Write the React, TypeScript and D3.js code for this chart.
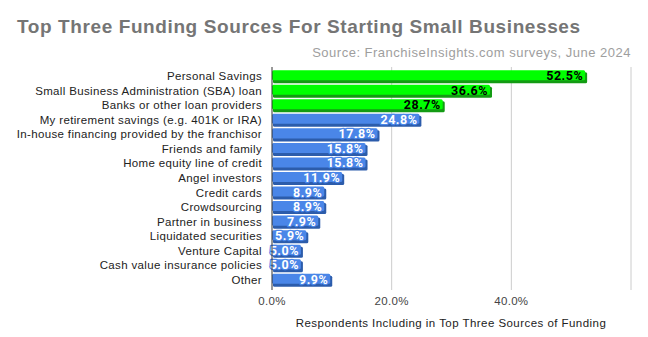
import React from "react";
import * as d3 from "d3";

const categories = [
  "Personal Savings",
  "Small Business Administration (SBA) loan",
  "Banks or other loan providers",
  "My retirement savings (e.g. 401K or IRA)",
  "In-house financing provided by the franchisor",
  "Friends and family",
  "Home equity line of credit",
  "Angel investors",
  "Credit cards",
  "Crowdsourcing",
  "Partner in business",
  "Liquidated securities",
  "Venture Capital",
  "Cash value insurance policies",
  "Other",
];
const values = [52.5, 36.6, 28.7, 24.8, 17.8, 15.8, 15.8, 11.9, 8.9, 8.9, 7.9, 5.9, 5.0, 5.0, 9.9];
const highlighted = [true, true, true, false, false, false, false, false, false, false, false, false, false, false, false];
const xTicks = [0, 20, 40, 60];

const W = 648;
const H = 337;
const left = 272;
const right = 631;
const top = 69;
const bottom = 287;

export default function App() {
  const x = d3.scaleLinear().domain([0, 60]).range([left, right]);
  const y = d3.scaleBand<string>().domain(categories).range([top, bottom]).paddingInner(0.17).paddingOuter(0.08);
  const bh = y.bandwidth();
  const sans = "Arial, 'Liberation Sans', sans-serif";
  return (
    <svg width={W} height={H} style={{ position: "absolute", left: 0, top: 0, background: "#fff" }}>
      <text x={17} y={33} fontFamily={sans} fontSize={19} letterSpacing={0.6} fontWeight="bold" fill="#757575">
        Top Three Funding Sources For Starting Small Businesses
      </text>
      <text x={631} y={57} textAnchor="end" fontFamily={sans} fontSize={13} letterSpacing={0.5} fill="#9e9e9e">
        Source: FranchiseInsights.com surveys, June 2024
      </text>
      {xTicks.slice(1).map((t) => (
        <line key={t} x1={x(t)} x2={x(t)} y1={67} y2={290} stroke="#cccccc" strokeWidth={1} />
      ))}
      {values.map((v, i) => {
        const c = categories[i];
        const y0 = y(c)!;
        const x1 = x(v);
        const hi = highlighted[i];
        const main = hi ? "#00ff00" : "#4a86e8";
        const shadow = hi ? "#139b13" : "#2c5cab";
        const lw = x1 - left;
        return (
          <g key={c}>
            <rect x={left + 1} y={y0 + 2} width={lw} height={bh - 1} rx={1.5} fill={shadow} />
            <rect x={left} y={y0} width={lw - 1} height={bh - 2} rx={1.5} fill={main} />
            <text
              x={x1 - 3}
              y={y0 + bh / 2 + 4}
              textAnchor="end"
              fontFamily="Roboto, sans-serif"
              fontWeight="bold"
              fontSize={12.5}
              letterSpacing={0.5}
              fill={hi ? "#000" : "#fff"}
              stroke={hi ? "none" : "#4a86e8"}
              strokeWidth={hi ? 0 : 2.5}
              paintOrder="stroke"
              strokeLinejoin="round"
            >
              {v.toFixed(1)}%
            </text>
            <text x={262} y={y0 + bh / 2 + 4} textAnchor="end" fontFamily={sans} fontSize={11.5} letterSpacing={0.35} fill="#222">
              {c}
            </text>
          </g>
        );
      })}
      <line x1={left} x2={left} y1={67} y2={290} stroke="#333" strokeWidth={1} />
      {xTicks.slice(0, 3).map((t) => (
        <text key={t} x={x(t)} y={305} textAnchor="middle" fontFamily={sans} fontSize={11.5} letterSpacing={0.3} fill="#444">
          {t.toFixed(1)}%
        </text>
      ))}
      <text x={451} y={327} textAnchor="middle" fontFamily={sans} fontSize={11.5} letterSpacing={0.45} fill="#222">
        Respondents Including in Top Three Sources of Funding
      </text>
    </svg>
  );
}
